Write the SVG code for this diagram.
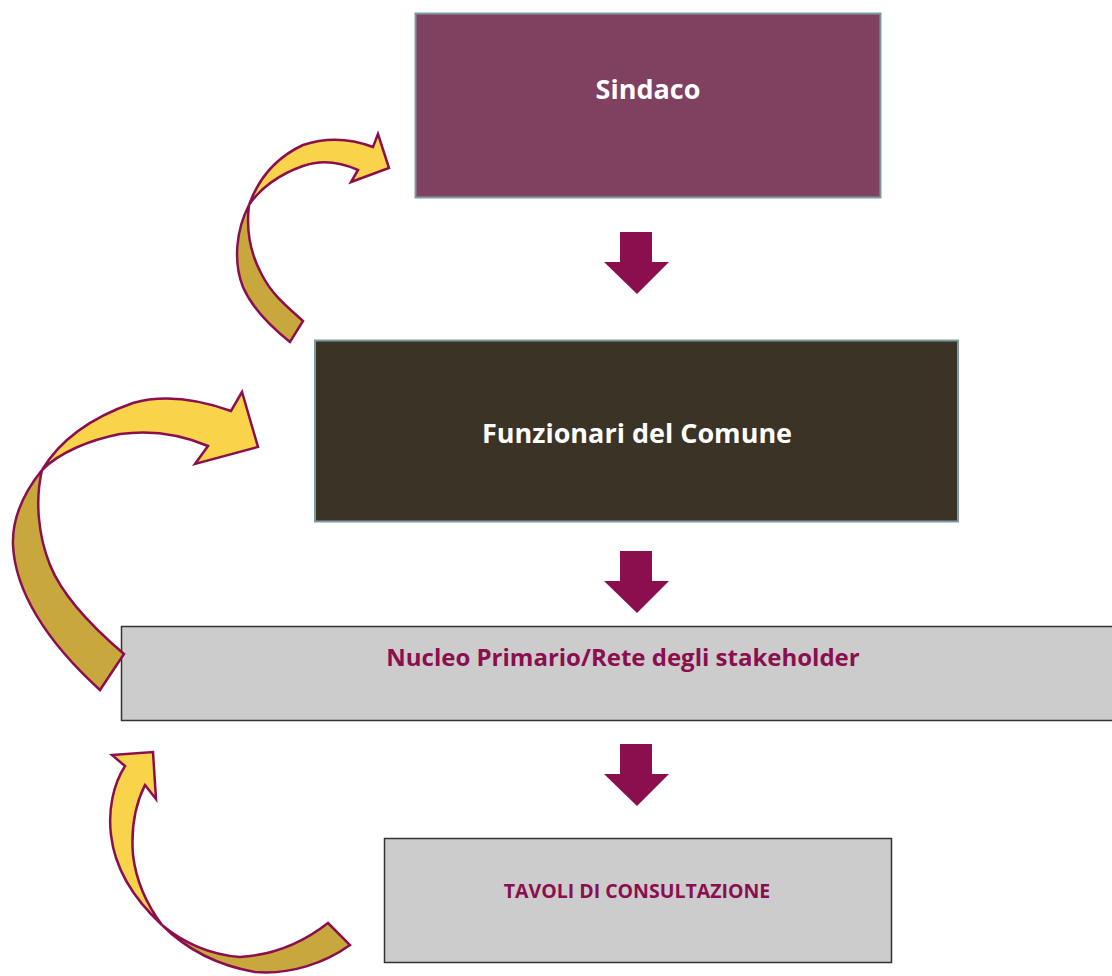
<svg xmlns="http://www.w3.org/2000/svg" width="1112" height="976" viewBox="0 0 1112 976">
<style>
.lbl{font-family:"Open Sans","Liberation Sans",sans-serif;font-weight:bold;text-anchor:middle;dominant-baseline:central}
.down{fill:#8b0e4f}
.front{fill:#f9d44a;stroke:#8b0e4f;stroke-width:2.5;stroke-linejoin:miter}
.back{fill:#c8a83c;stroke:#8b0e4f;stroke-width:2.5;stroke-linejoin:miter}
</style>
<rect width="1112" height="976" fill="#ffffff"/>
<g id="sindaco">
<rect x="415.5" y="13.5" width="465" height="184" fill="#80405f" stroke="#7c9ca2" stroke-width="2"/>
<text class="lbl" x="648" y="88" font-size="27" fill="#ffffff">Sindaco</text>
</g>
<g id="funzionari">
<rect x="315" y="340.5" width="643" height="181" fill="#3a3326" stroke="#7c9ca2" stroke-width="2"/>
<text class="lbl" x="637" y="432" font-size="27" fill="#ffffff">Funzionari del Comune</text>
</g>
<g id="nucleo">
<rect x="121.5" y="626.5" width="1000" height="94" fill="#cccccc" stroke="#333333" stroke-width="1.5"/>
<text class="lbl" x="623" y="656" font-size="24" fill="#8b0e4f">Nucleo Primario/Rete degli stakeholder</text>
</g>
<g id="tavoli">
<rect x="384.5" y="838.5" width="507" height="124" fill="#cccccc" stroke="#333333" stroke-width="1.5"/>
<text class="lbl" x="637" y="890" font-size="19.5" fill="#8b0e4f">TAVOLI DI CONSULTAZIONE</text>
</g>
<g id="connectors">
<path class="down" d="M620,232 H652 V262 H669 L637,294 L604,262 H620 Z"/>
<path class="down" d="M620,551 H652 V581 H669 L637,613 L604,581 H620 Z"/>
<path class="down" d="M620,744 H652 V774 H669 L637,806 L604,774 H620 Z"/>
<path class="back" d="M249,205 C236,230 233,262 243,287 C252,308 270,326 290,342 L303,321 C285,305 271,293 262,275 C251,255 246,230 249,205 Z"/>
<path class="front" d="M249,205 C258,180 275,158 303,145 C327,137 352,139 373,147 L378,134 L389,168 L351,182 L358,170 C340,162 320,160 303,166 C280,174 260,188 249,205 Z"/>
<path class="back" d="M42,470 C22,495 12,520 13,545 C15,590 45,640 100,690 L124,654 C90,625 62,595 50,565 C38,535 35,500 42,470 Z"/>
<path class="front" d="M42,470 C60,440 90,418 133,403 C165,394 200,400 231,411 L242,392 L258,447 L195,464 L208,446 C180,434 150,430 120,434 C90,440 60,452 42,470 Z"/>
<path class="front" d="M162,925 C135,900 115,870 111,835 C108,810 113,785 125,766 L112,755 L153,752 L156,799 L145,785 C135,805 131,830 133,855 C136,880 147,905 162,925 Z"/>
<path class="back" d="M162,925 C185,948 215,965 255,972 C290,975 325,963 350,945 L328,923 C305,941 275,955 240,957 C210,955 182,942 162,925 Z"/>
</g>
</svg>
